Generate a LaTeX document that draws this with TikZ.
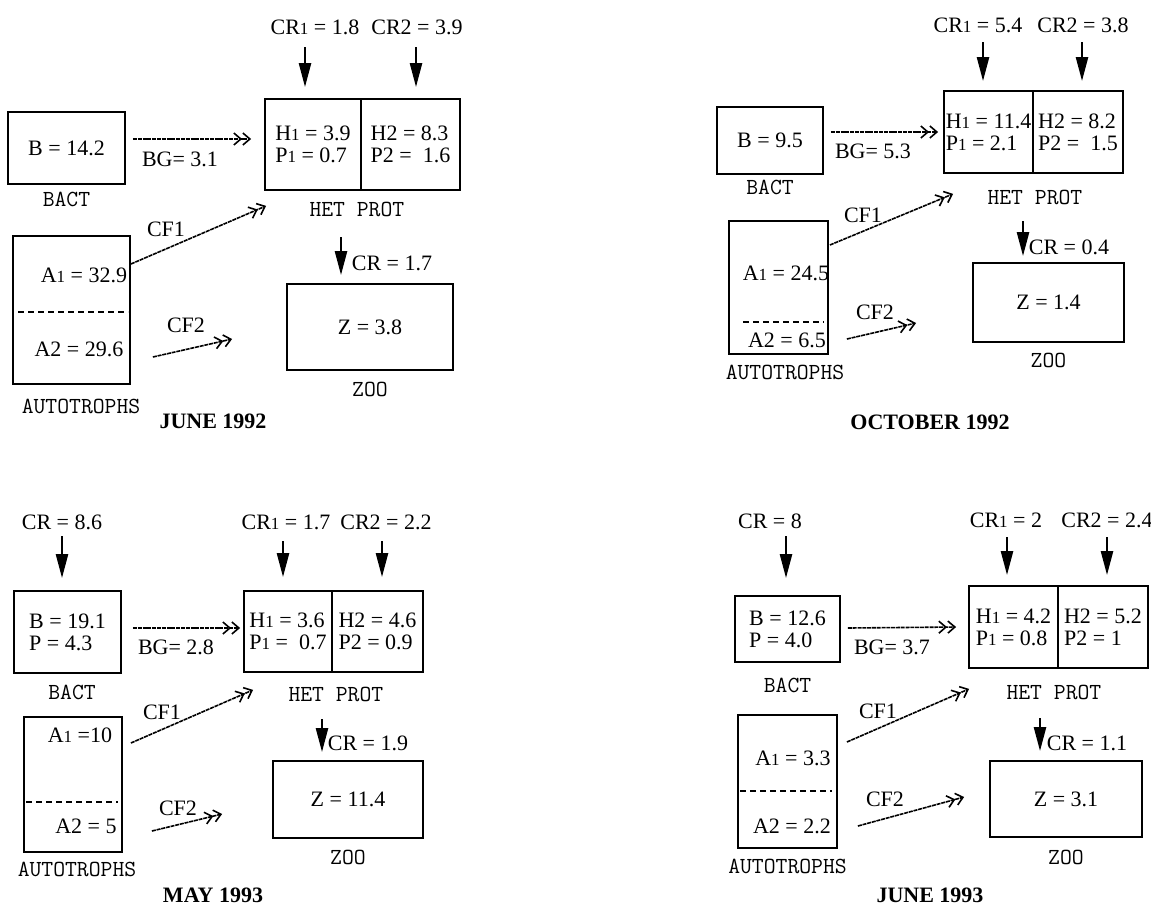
\documentclass[tikz,border=0pt]{standalone}
\usepackage{fontspec}
\setmainfont{Liberation Serif}
\usepackage{tikz}
\usetikzlibrary{arrows.meta,positioning}
\newcommand{\sone}{{\fontsize{8.5}{8.5}\selectfont 1}}

\begin{document}
\begin{tikzpicture}[
    x=0.5pt, y=-0.5pt,
    every node/.style={font=\fontsize{11}{11}\selectfont, inner sep=0pt},
    box/.style={rectangle, draw, line width=0.9pt, align=left},
    boxname/.style={font=\fontsize{11.5}{11.5}\ttfamily},
    datelabel/.style={font=\fontsize{11}{11}\selectfont\bfseries},
    inflow/.style={line width=1.2pt, -{Triangle[length=12pt,width=6pt]}},
    flux/.style={line width=0.8pt, dash pattern=on 2pt off 0.4pt,
        -{Straight Barb[length=3.5pt,width=6pt] Straight Barb[length=3.5pt,width=6pt]}},
    divider/.style={line width=0.8pt, dash pattern=on 3pt off 2pt}
    ]
    \useasboundingbox (0,0) rectangle (1151,906);
    % June 1992
    \node[box, minimum width=58.5pt, minimum height=36pt] (bact1) at (66.5,148) {B = 14.2};
    \node[boxname, below=3.6pt of bact1] (bn1) {BACT};
    \node[box, minimum width=48pt, minimum height=45.5pt] (het1a) at (313,144.5) {H\sone{} = 3.9\\P\sone{} = 0.7};
    \node[box, minimum width=49.5pt, minimum height=45.5pt] (het1b) at (410.5,144.5) {H2 = 8.3\\P2 = ~1.6};
    \node[boxname, below=5.6pt of het1a.south east, xshift=-2.5pt] (hn1) {HET PROT};
    \draw[flux] ([shift={(7,-9)}]bact1.east) -- ([shift={(-13,-5.5)}]het1a.west);
    \node (bg1) at (180,159) {BG= 3.1};
    \node (cr11) at (315,27) {CR\sone{} = 1.8};
    \node (cr12) at (417,27) {CR2 = 3.9};
    \draw[inflow] ([shift={(-8,-51)}]het1a.north) -- ([shift={(-8,-11)}]het1a.north);
    \draw[inflow] ([shift={(5.5,-51)}]het1b.north) -- ([shift={(5.5,-11)}]het1b.north);
    \node[box, minimum width=58.5pt, minimum height=74pt] (auto1) at (71.5,310) {};
    \draw[divider] (18,312) -- (128,312);
    \node (a11) at (84,275) {A\sone{} = 32.9};
    \node (a21) at (79,349) {A2 = 29.6};
    \node[boxname, below=6.7pt of auto1, xshift=4.75pt] (an1) {AUTOTROPHS};
    \node[box, minimum width=83pt, minimum height=43pt] (zoo1) at (370,327) {Z = 3.8};
    \node[boxname, below=5.6pt of zoo1] (zn1) {ZOO};
    \draw[inflow] ([shift={(-29,-46)}]zoo1.north) -- ([shift={(-29,-8)}]zoo1.north);
    \node (crz1) at (392,263) {CR = 1.7};
    \draw[flux] ([shift={(0,-46)}]auto1.east) -- ([shift={(2,15)}]het1a.south west);
    \node (cf11) at (166,229) {CF1};
    \draw[flux] ([shift={(22,47)}]auto1.east) -- ([shift={(-54,12)}]zoo1.west);
    \node (cf21) at (186,325) {CF2};
    \node[datelabel] (d1) at (213,421) {JUNE 1992};
    % October 1992
    \node[box, minimum width=53pt, minimum height=33.5pt] (bact2) at (770,140.5) {B = 9.5};
    \node[boxname, below=2.2pt of bact2] (bn2) {BACT};
    \node[box, minimum width=44.5pt, minimum height=41pt] (het2a) at (988.5,132) {H\sone{} = 11.4\\P\sone{} = 2.1};
    \node[box, minimum width=45pt, minimum height=41pt] (het2b) at (1078,132) {H2 = 8.2\\P2 = ~1.5};
    \node[boxname, below=7.7pt of het2a.south east, xshift=0.5pt] (hn2) {HET PROT};
    \draw[flux] ([shift={(7,-8.5)}]bact2.east) -- ([shift={(-5,0)}]het2a.west);
    \node (bg2) at (873,151) {BG= 5.3};
    \node (cr21) at (978,25) {CR\sone{} = 5.4};
    \node (cr22) at (1083,25) {CR2 = 3.8};
    \draw[inflow] ([shift={(-5.5,-48)}]het2a.north) -- ([shift={(-5.5,-9)}]het2a.north);
    \draw[inflow] ([shift={(4,-48)}]het2b.north) -- ([shift={(4,-9)}]het2b.north);
    \node[box, minimum width=49.5pt, minimum height=66.5pt] (auto2) at (778.5,287.5) {};
    \draw[divider] (743,322) -- (824,322);
    \node (a12) at (786,273) {A\sone{} = 24.5};
    \node (a22) at (787,340) {A2 = 6.5};
    \node[boxname, below=4.7pt of auto2, xshift=3.25pt] (an2) {AUTOTROPHS};
    \node[box, minimum width=75.5pt, minimum height=39.5pt] (zoo2) at (1048.5,302.5) {Z = 1.4};
    \node[boxname, below=4.7pt of zoo2] (zn2) {ZOO};
    \draw[inflow] ([shift={(-25.5,-41)}]zoo2.north) -- ([shift={(-25.5,-6)}]zoo2.north);
    \node (crz2) at (1069,247) {CR = 0.4};
    \draw[flux] ([shift={(1,-42.5)}]auto2.east) -- ([shift={(10,20)}]het2a.south west);
    \node (cf12) at (863,215) {CF1};
    \draw[flux] ([shift={(18,51.5)}]auto2.east) -- ([shift={(-56,20.5)}]zoo2.west);
    \node (cf22) at (875,312) {CF2};
    \node[datelabel] (d2) at (930,422) {OCTOBER 1992};
    % May 1993
    \node[box, minimum width=53.5pt, minimum height=41pt] (bact3) at (67.5,632) {B = 19.1\\P = 4.3};
    \node[boxname, below=5.2pt of bact3, xshift=2.25pt] (bn3) {BACT};
    \node (crb3) at (62,522) {CR = 8.6};
    \draw[inflow] ([shift={(-5.5,-54)}]bact3.north) -- ([shift={(-5.5,-12)}]bact3.north);
    \node[box, minimum width=44pt, minimum height=40.5pt] (het3a) at (288,631.5) {H\sone{} = 3.6\\P\sone{} = ~0.7};
    \node[box, minimum width=45.5pt, minimum height=40.5pt] (het3b) at (377.5,631.5) {H2 = 4.6\\P2 = 0.9};
    \node[boxname, below=6.7pt of het3a.south east, xshift=1.5pt] (hn3) {HET PROT};
    \draw[flux] ([shift={(11,-4)}]bact3.east) -- ([shift={(-3,-3.5)}]het3a.west);
    \node (bg3) at (176,647) {BG= 2.8};
    \node (cr31) at (286,522) {CR\sone{} = 1.7};
    \node (cr32) at (386,522) {CR2 = 2.2};
    \draw[inflow] ([shift={(-5,-49)}]het3a.north) -- ([shift={(-5,-13)}]het3a.north);
    \draw[inflow] ([shift={(4.5,-49)}]het3b.north) -- ([shift={(4.5,-13)}]het3b.north);
    \node[box, minimum width=49pt, minimum height=67.5pt] (auto3) at (73,784.5) {};
    \draw[divider] (26,802) -- (118,802);
    \node (a13) at (80,735) {A\sone{} =10};
    \node (a23) at (86,826) {A2 = 5};
    \node[boxname, below=4.2pt of auto3, xshift=2pt] (an3) {AUTOTROPHS};
    \node[box, minimum width=75pt, minimum height=38.5pt] (zoo3) at (348,799.5) {Z = 11.4};
    \node[boxname, below=5.2pt of zoo3] (zn3) {ZOO};
    \draw[inflow] ([shift={(-26,-41)}]zoo3.north) -- ([shift={(-26,-8)}]zoo3.north);
    \node (crz3) at (368,743) {CR = 1.9};
    \draw[flux] ([shift={(8,-41.5)}]auto3.east) -- ([shift={(10,17)}]het3a.south west);
    \node (cf13) at (162,712) {CF1};
    \draw[flux] ([shift={(29,46.5)}]auto3.east) -- ([shift={(-50,14.5)}]zoo3.west);
    \node (cf23) at (178,808) {CF2};
    \node[datelabel] (d3) at (213,895) {MAY 1993};
    % June 1993
    \node[box, minimum width=52.5pt, minimum height=33pt] (bact4) at (787.5,629) {B = 12.6\\P = 4.0};
    \node[boxname, below=7.2pt of bact4] (bn4) {BACT};
    \node (crb4) at (770,521) {CR = 8};
    \draw[inflow] ([shift={(-1.5,-59)}]bact4.north) -- ([shift={(-1.5,-17)}]bact4.north);
    \node[box, minimum width=44.5pt, minimum height=41pt] (het4a) at (1013.5,627) {H\sone{} = 4.2\\P\sone{} = 0.8};
    \node[box, minimum width=45pt, minimum height=41pt] (het4b) at (1103,627) {H2 = 5.2\\P2 = 1};
    \node[boxname, below=7.7pt of het4a.south east, xshift=-2.5pt] (hn4) {HET PROT};
    \draw[flux] ([shift={(7,-1)}]bact4.east) -- ([shift={(-12,0)}]het4a.west);
    \node (bg4) at (892,647) {BG= 3.7};
    \node (cr41) at (1006,520) {CR\sone{} = 2};
    \node (cr42) at (1107,520) {CR2 = 2.4};
    \draw[inflow] ([shift={(-6.5,-48)}]het4a.north) -- ([shift={(-6.5,-10)}]het4a.north);
    \draw[inflow] ([shift={(4,-48)}]het4b.north) -- ([shift={(4,-10)}]het4b.north);
    \node[box, minimum width=49.5pt, minimum height=66.5pt] (auto4) at (787.5,781.5) {};
    \draw[divider] (740,791) -- (832,791);
    \node (a14) at (793,758) {A\sone{} = 3.3};
    \node (a24) at (792,826) {A2 = 2.2};
    \node[boxname, below=4.7pt of auto4] (an4) {AUTOTROPHS};
    \node[box, minimum width=76pt, minimum height=38pt] (zoo4) at (1066,799) {Z = 3.1};
    \node[boxname, below=5.7pt of zoo4] (zn4) {ZOO};
    \draw[inflow] ([shift={(-26,-42)}]zoo4.north) -- ([shift={(-26,-9)}]zoo4.north);
    \node (crz4) at (1087,743) {CR = 1.1};
    \draw[flux] ([shift={(9,-39.5)}]auto4.east) -- ([shift={(1,20)}]het4a.south west);
    \node (cf14) at (878,711) {CF1};
    \draw[flux] ([shift={(20,44.5)}]auto4.east) -- ([shift={(-25,-2)}]zoo4.west);
    \node (cf24) at (885,799) {CF2};
    \node[datelabel] (d4) at (930,895) {JUNE 1993};
\end{tikzpicture}
\end{document}
